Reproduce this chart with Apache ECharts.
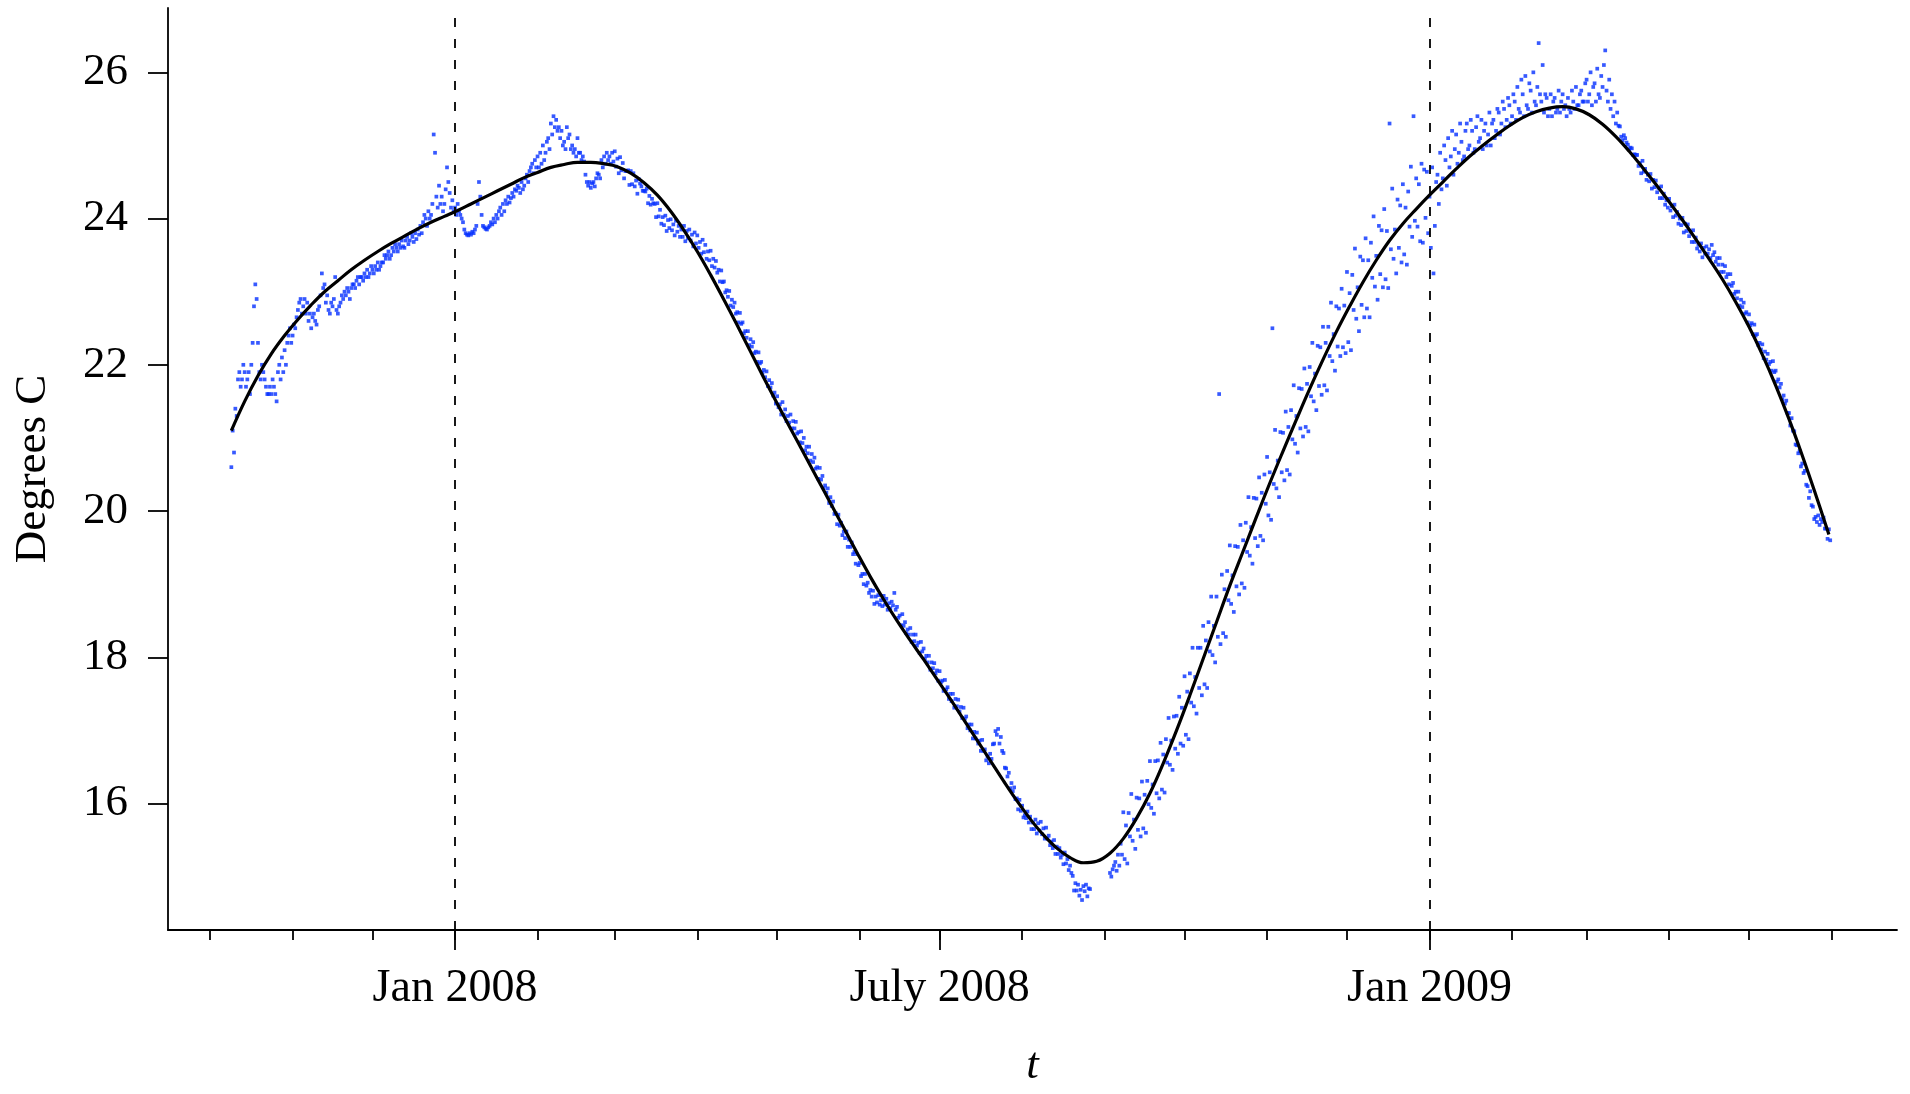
<!DOCTYPE html>
<html>
<head>
<meta charset="utf-8">
<title>Water temperature, Oct 2007 – May 2009</title>
<script src="https://cdn.jsdelivr.net/npm/echarts@6/dist/echarts.min.js"></script>
<style>
  html, body { margin: 0; padding: 0; background: #ffffff; }
  #chart { width: 1910px; height: 1094px; }
</style>
</head>
<body>
<div id="chart"></div>
<script>
// Temperature readings (degrees C), two per day (00:00 and 12:00 UTC),
// one array per month; null marks readings that are missing.
const stepHours = 12;

const oct2007 = [20.6, 21.1, 20.8, 21.4, 21.3, 21.8, 21.9, 21.7, 21.8, 22.0, 21.9, 21.7, 21.8, 21.9, 21.6, 22.0,
  22.3, 22.8, 23.1, 22.9, 22.3, 21.9, 21.8, 22.0, 21.9, 21.8, 21.7, 21.6, 21.6, 21.7, 21.6, 21.8,
  21.7, 21.6, 21.5, 21.9, 22.0, 21.8, 22.1, 21.9, 22.2, 22.0, 22.3, 22.4, 22.5, 22.3];
const nov2007 = [22.4, 22.55, 22.5, 22.65, 22.75, 22.85, 22.9, 22.7, 22.8, 22.9, 22.7, 22.85, 22.6, 22.7, 22.5, 22.65,
  22.7, 22.6, 22.55, 22.75, 22.8, 22.95, 23.25, 23.05, 23.1, 22.85, 22.95, 22.75, 22.7, 22.85, 22.8, 22.9,
  23.2, 22.75, 22.7, 22.8, 22.85, 22.95, 22.9, 23.0, 22.95, 23.05, 23.0, 22.9, 23.05, 23.1, 23.1, 23.05,
  23.15, 23.2, 23.1, 23.2, 23.2, 23.15, 23.25, 23.2, 23.3, 23.2, 23.25, 23.35];
const dec2007 = [23.3, 23.25, 23.35, 23.3, 23.4, 23.3, 23.35, 23.4, 23.4, 23.5, 23.45, 23.5, 23.55, 23.45, 23.5, 23.6,
  23.55, 23.65, 23.6, 23.55, 23.65, 23.6, 23.7, 23.62, 23.6, 23.7, 23.75, 23.65, 23.7, 23.8, 23.75, 23.68,
  23.8, 23.72, 23.85, 23.78, 23.9, 23.8, 23.95, 24.05, 24.0, 23.9, 24.1, 24.0, 24.05, 24.2, 25.15, 24.9,
  24.3, 24.15, 24.45, 24.2, 24.3, 24.1, 24.2, 24.4, 24.7, 24.5, 24.35, 24.15, 24.25, 24.1];
const jan2008 = [24.15, 24.05, 24.2, 24.1, 24.05, 24.0, 23.95, 23.85, 23.8, 23.78, 23.77, 23.8, 23.78, 23.82, 23.8, 23.85,
  23.9, 24.2, 24.5, 24.3, 24.05, 23.9, 23.88, 23.86, 23.85, 23.88, 23.9, 23.95, 23.92, 24.0, 23.95, 24.05,
  24.0, 24.1, 24.15, 24.05, 24.2, 24.1, 24.25, 24.2, 24.3, 24.22, 24.28, 24.35, 24.3, 24.4, 24.38, 24.45,
  24.42, 24.35, 24.5, 24.4, 24.45, 24.55, 24.6, 24.5, 24.65, 24.7, 24.75, 24.62, 24.8, 24.7];
const feb2008 = [24.85, 24.7, 24.9, 24.75, 25.0, 24.8, 24.9, 25.05, 25.1, 24.95, 25.3, 25.15, 25.4, 25.25, 25.35, 25.2,
  25.25, 25.1, 25.2, 25.0, 25.05, 24.95, 25.25, 25.1, 25.15, 24.95, 25.0, 24.9, 24.95, 24.85, 25.1, 24.9,
  24.9, 24.8, 24.85, 24.78, 24.6, 24.5, 24.45, 24.5, 24.42, 24.48, 24.5, 24.44, 24.55, 24.62, 24.6, 24.55,
  24.8, 24.7, 24.85, 24.75, 24.9, 24.8, 24.85, 24.75, 24.9, 24.78];
const mar2008 = [24.92, 24.71, 24.82, 24.62, 24.84, 24.66, 24.76, 24.55, 24.65, 24.65, 24.66, 24.46, 24.65, 24.47,
  24.62, 24.44, 24.52, 24.34, 24.54, 24.48, 24.44, 24.38, 24.38, 24.37, 24.41, 24.21, 24.31, 24.19,
  24.27, 24.21, 24.2, 24.02, 24.21, 24.03, 24.12, 23.93, 24.02, 23.91, 24.04, 23.83, 23.98, 23.87,
  23.99, 23.84, 23.92, 23.77, 23.97, 23.82, 23.9, 23.75, 23.85, 23.75, 23.9, 23.69, 23.83, 23.73,
  23.85, 23.7, 23.78, 23.62, 23.81, 23.66];
const apr2008 = [23.77, 23.6, 23.68, 23.52, 23.71, 23.54, 23.64, 23.45, 23.55, 23.43, 23.56, 23.35, 23.45, 23.33,
  23.42, 23.26, 23.3, 23.14, 23.29, 23.13, 23.14, 22.99, 23.02, 22.93, 23.01, 22.81, 22.89, 22.79,
  22.85, 22.7, 22.72, 22.58, 22.71, 22.56, 22.58, 22.43, 22.46, 22.37, 22.46, 22.27, 22.35, 22.25,
  22.31, 22.16, 22.18, 22.04, 22.17, 22.02, 22.04, 21.89, 21.93, 21.83, 21.91, 21.71, 21.79, 21.69,
  21.75, 21.58, 21.62, 21.47];
const may2008 = [21.57, 21.42, 21.46, 21.32, 21.49, 21.32, 21.39, 21.23, 21.3, 21.21, 21.32, 21.13, 21.23, 21.13,
  21.22, 21.06, 21.08, 20.94, 21.09, 20.93, 21.0, 20.83, 20.88, 20.79, 20.88, 20.69, 20.78, 20.67,
  20.73, 20.58, 20.6, 20.44, 20.59, 20.43, 20.48, 20.31, 20.35, 20.25, 20.31, 20.11, 20.19, 20.07,
  20.13, 19.96, 19.97, 19.82, 19.95, 19.8, 19.84, 19.67, 19.72, 19.63, 19.72, 19.51, 19.61, 19.51,
  19.57, 19.41, 19.44, 19.28, 19.41, 19.26];
const jun2008 = [19.29, 19.11, 19.14, 19.0, 19.14, 18.98, 19.02, 18.88, 18.92, 18.83, 18.91, 18.73, 18.83, 18.75,
  18.85, 18.72, 18.78, 18.7, 18.84, 18.72, 18.8, 18.65, 18.74, 18.67, 18.76, 18.71, 18.88, 18.65,
  18.69, 18.54, 18.57, 18.44, 18.59, 18.43, 18.48, 18.33, 18.38, 18.31, 18.4, 18.21, 18.31, 18.22,
  18.31, 18.16, 18.2, 18.06, 18.21, 18.08, 18.12, 17.98, 18.02, 17.93, 18.02, 17.83, 17.93, 17.85,
  17.92, 17.78, 17.82, 17.68];
const jul2008 = [17.81, 17.66, 17.68, 17.54, 17.69, 17.56, 17.59, 17.43, 17.5, 17.4, 17.5, 17.31, 17.43, 17.33,
  17.42, 17.26, 17.32, 17.17, 17.31, 17.16, 17.19, 17.03, 17.08, 17.0, 17.08, 16.89, 16.98, 16.89,
  16.97, 16.82, 16.86, 16.72, 16.87, 16.72, 16.74, 16.59, 16.64, 16.55, 16.68, 16.61, 16.81, 16.82,
  16.99, 16.94, 17.02, 16.82, 16.91, 16.72, 16.69, 16.49, 16.48, 16.37, 16.42, 16.21, 16.28, 16.17,
  16.22, 16.06, 16.07, 15.92, 16.05, 15.9];
const aug2008 = [15.97, 15.81, 15.84, 15.8, 15.89, 15.74, 15.82, 15.65, 15.74, 15.65, 15.78, 15.59, 15.73, 15.63,
  15.75, 15.58, 15.66, 15.52, 15.67, 15.52, 15.56, 15.43, 15.48, 15.39, 15.5, 15.31, 15.41, 15.31,
  15.39, 15.26, 15.3, 15.17, 15.33, 15.18, 15.24, 15.09, 15.15, 15.05, 15.01, 14.81, 14.91, 14.81,
  14.89, 14.74, 14.82, 14.68, 14.87, 14.8, 14.89, 14.73, 14.84, 14.83,
  null, null, null, null, null, null, null, null, null, null];
const sep2008 = [null, null, null, null, 15.05, 15.0, 15.1, 15.15, 15.2, 15.08, 15.3, 15.15, 15.45, 15.3, 15.88, 15.24,
  15.7, 15.18, 15.87, 15.55, 16.13, 15.49, 15.78, 15.38, 16.08, 15.64, 16.07, 15.55, 16.3, 15.66, 16.12, 15.6,
  16.31, 15.99, 16.58, 15.94, 16.26, 15.86, 16.58, 16.14, 16.59, 16.07, 16.83, 16.19, 16.67, 16.15, 16.88, 16.56,
  17.17, 16.53, 16.86, 16.46, 17.19, 16.75, 17.2, 16.68, 17.46, 16.82, 17.31, 16.79];
const oct2008 = [17.74, 16.94, 17.53, 16.88, 17.78, 17.38, 18.13, 17.33, 17.73, 17.23, 18.13, 17.58, 18.13, 17.48, 18.43, 17.63,
  18.23, 17.58, 18.48, 18.08, 18.83, 18.03, 18.43, 17.93, 18.83, 18.28, 21.6, 18.18, 19.13, 18.33, 18.93, 18.28,
  19.18, 18.78, 19.53, 18.73, 19.12, 18.62, 19.52, 18.97, 19.51, 18.86, 19.81, 19.01, 19.6, 18.95, 19.84, 19.44,
  20.19, 19.39, 19.78, 19.28, 20.18, 19.63, 20.17, 19.52, 20.46, 19.66, 20.25, 19.6, 20.5, 20.1];
const nov2008 = [20.74, 19.94, 20.53, 19.88, 22.5, 20.37, 21.11, 20.31, 20.69, 20.19, 21.08, 20.53, 21.07, 20.42, 21.36, 20.56,
  21.15, 20.5, 21.38, 20.98, 21.72, 20.92, 21.3, 20.8, 21.68, 21.13, 21.67, 21.02, 21.95, 21.15, 21.74, 21.09,
  21.97, 21.57, 22.3, 21.5, 21.88, 21.38, 22.26, 21.71, 22.24, 21.59, 22.52, 21.72, 22.3, 21.65, 22.52, 22.12,
  22.85, 22.05, 22.42, 21.92, 22.8, 22.25, 22.77, 22.12, 23.04, 22.24, 22.81, 22.16];
const dec2008 = [23.27, 22.31, 22.98, 22.2, 23.23, 22.75, 23.59, 22.63, 23.06, 22.46, 23.48, 22.82, 23.43, 22.65, 23.73, 22.77,
  23.43, 22.65, 23.67, 23.19, 24.03, 23.07, 23.49, 22.89, 23.9, 23.24, 23.84, 23.06, 24.13, 23.17, 23.83, 23.05,
  25.3, 23.58, 24.41, 23.45, 23.85, 23.25, 24.26, 23.6, 24.18, 23.4, 24.47, 23.51, 24.15, 23.37, 24.37, 23.89,
  24.71, 23.75, 25.4, 23.97, 24.55, 23.89, 24.47, 23.69, 24.75, 23.67, 24.67, 24.01, 24.64, 23.8];
const jan2009 = [24.3, 23.6, 24.7, 23.25, 23.9, 24.5, 24.6, 24.2, 24.9, 24.4, 24.55, 25.0, 24.8, 24.45, 25.1, 24.7,
  24.85, 25.2, 24.6, 24.95, 25.15, 24.75, 24.9, 25.3, 25.05, 24.8, 24.85, 25.2, 25.3, 24.95, 25.0, 25.35,
  25.2, 24.9, 24.95, 25.25, 25.4, 25.05, 25.1, 25.35, 24.95, 25.2, 25.3, 25.0, 25.15, 25.45, 25.0, 25.3,
  25.35, 25.1, 25.2, 25.5, 25.45, 25.15, 25.3, 25.6, 25.5, 25.25, 25.35, 25.65, 25.55, 25.3];
const feb2009 = [25.4, 25.7, 25.6, 25.35, 25.8, 25.5, 25.45, 25.9, 25.7, 25.4, 25.95, 25.55, 25.5, 25.85, 25.75, 25.45,
  26.0, 25.6, 25.55, 25.8, 26.4, 25.7, 25.6, 26.1, 25.45, 25.7, 25.65, 25.4, 25.5, 25.7, 25.4, 25.6,
  25.65, 25.45, 25.5, 25.75, 25.45, 25.6, 25.7, 25.5, 25.55, 25.4, 25.65, 25.5, 25.45, 25.75, 25.6, 25.5,
  25.8, 25.55, 25.55, 25.7, 25.75, 25.6, 25.6, 25.85];
const mar2009 = [25.9, 25.6, 25.7, 26.0, 25.55, 25.8, 25.85, 25.6, 26.05, 25.7, 25.65, 25.95, 25.8, 26.1, 26.3, 25.75,
  25.6, 25.9, 25.5, 25.7, 25.4, 25.6, 25.3, 25.45,
  25.27, 25.26, 25.12, 25.07, 25.14, 25.1, 25.04, 25.01, 24.95, 24.97, 24.96, 24.87, 24.88, 24.87,
  24.87, 24.72, 24.76, 24.62, 24.79, 24.64, 24.68, 24.53, 24.6, 24.51, 24.61, 24.41, 24.53, 24.43,
  24.52, 24.36, 24.42, 24.28, 24.44, 24.28, 24.34, 24.19, 24.25, 24.15];
const apr2009 = [24.27, 24.11, 24.17, 24.02, 24.19, 24.04, 24.09, 23.93, 24.0, 23.91, 24.01, 23.81, 23.93, 23.83,
  23.92, 23.76, 23.82, 23.68, 23.84, 23.68, 23.74, 23.59, 23.64, 23.55, 23.66, 23.47, 23.6, 23.52,
  23.62, 23.52, 23.58, 23.46, 23.64, 23.5, 23.54, 23.41, 23.46, 23.37, 23.46, 23.27, 23.37, 23.27,
  23.35, 23.2, 23.24, 23.1, 23.24, 23.08, 23.12, 22.97, 23.0, 22.91, 23.0, 22.81, 22.89, 22.79,
  22.85, 22.7, 22.72, 22.58];
const may2009 = [22.69, 22.54, 22.57, 22.42, 22.55, 22.4, 22.42, 22.27, 22.3, 22.21, 22.28, 22.09, 22.18, 22.07,
  22.15, 22.01, 22.04, 21.92, 22.05, 21.9, 21.92, 21.77, 21.8, 21.69, 21.74, 21.53, 21.58, 21.47,
  21.51, 21.34, 21.34, 21.17, 21.27, 21.1, 21.09, 20.91, 20.9, 20.79, 20.82, 20.61, 20.65, 20.52,
  20.55, 20.36, 20.34, 20.18, 20.27, 20.08, 20.06, 19.89, 19.92, 19.85, 19.94, 19.81, 19.89, 19.85,
  19.91, 19.76, 19.76, 19.62, 19.75, 19.6];

const monthStarts = ['2007-10-09', '2007-11-01', '2007-12-01', '2008-01-01', '2008-02-01', '2008-03-01',
  '2008-04-01', '2008-05-01', '2008-06-01', '2008-07-01', '2008-08-01', '2008-09-01', '2008-10-01',
  '2008-11-01', '2008-12-01', '2009-01-01', '2009-02-01', '2009-03-01', '2009-04-01', '2009-05-01'];
const monthlyReadings = [oct2007, nov2007, dec2007, jan2008, feb2008, mar2008, apr2008, may2008, jun2008,
  jul2008, aug2008, sep2008, oct2008, nov2008, dec2008, jan2009, feb2009, mar2009, apr2009, may2009];

// Smooth fitted trend, one value every 5 days from 2007-10-09.
const fitStart = '2007-10-09';
const fitStepDays = 5;
const fitValues = [21.1, 21.5, 21.85, 22.15, 22.4, 22.62, 22.82, 23.0, 23.15, 23.3, 23.43, 23.55, 23.66, 23.76, 23.86,
  23.95, 24.03, 24.11, 24.2, 24.29, 24.38, 24.47, 24.56, 24.63, 24.7, 24.74, 24.77, 24.77, 24.75, 24.71,
  24.62, 24.49, 24.32, 24.1, 23.84, 23.55, 23.23, 22.89, 22.54, 22.18, 21.82, 21.47, 21.13, 20.79, 20.45,
  20.11, 19.77, 19.43, 19.1, 18.79, 18.5, 18.23, 17.97, 17.7, 17.43, 17.15, 16.87, 16.59, 16.31, 16.04,
  15.79, 15.57, 15.39, 15.26, 15.19, 15.21, 15.32, 15.52, 15.8, 16.14, 16.55, 17.0, 17.48, 17.98, 18.48,
  18.98, 19.45, 19.92, 20.38, 20.82, 21.25, 21.67, 22.07, 22.45, 22.8, 23.13, 23.43, 23.7, 23.93, 24.13,
  24.32, 24.5, 24.68, 24.85, 25.0, 25.14, 25.27, 25.38, 25.46, 25.51, 25.53, 25.5, 25.42, 25.29, 25.12,
  24.92, 24.7, 24.47, 24.23, 23.98, 23.72, 23.45, 23.17, 22.86, 22.52, 22.14, 21.72, 21.26, 20.76, 20.23, 19.68];

// Axis range and ticks
const axisStart = '2007-09-15T05:00:00Z';
const axisEnd = '2009-06-25T14:00:00Z';
const yMin = 14.27;
const yMax = 26.88;
const yTicks = [16, 18, 20, 22, 24, 26];
const majorTickDates = ['2008-01-01', '2008-07-01', '2009-01-01'];
const majorTickLabels = ['Jan 2008', 'July 2008', 'Jan 2009'];
const minorTickMonths = ['2007-10-01', '2007-11-01', '2007-12-01', '2008-01-01', '2008-02-01', '2008-03-01',
  '2008-04-01', '2008-05-01', '2008-06-01', '2008-07-01', '2008-08-01', '2008-09-01', '2008-10-01',
  '2008-11-01', '2008-12-01', '2009-01-01', '2009-02-01', '2009-03-01', '2009-04-01', '2009-05-01', '2009-06-01'];
const dashedMarkers = ['2008-01-01', '2009-01-01'];

const HOUR = 3600000;
const DAY = 24 * HOUR;
const utc = s => Date.parse(s.length === 10 ? s + 'T00:00:00Z' : s);

const points = [];
monthlyReadings.forEach((vals, m) => {
  const t0 = utc(monthStarts[m]);
  vals.forEach((v, i) => {
    if (v !== null) points.push([t0 + i * stepHours * HOUR, v]);
  });
});
const fitT0 = utc(fitStart);
const fitLine = fitValues.map((v, i) => [fitT0 + i * fitStepDays * DAY, v]);

const majorTicks = majorTickDates.map(utc);
const minorTicks = minorTickMonths.map(utc);
const labelFor = v => {
  const k = majorTicks.indexOf(v);
  return k >= 0 ? majorTickLabels[k] : '';
};

const serif = "'Liberation Serif', 'DejaVu Serif', serif";
const ink = '#000000';
const axisWidth = 1.8;

const chart = echarts.init(document.getElementById('chart'), null, { renderer: 'canvas' });
chart.setOption({
  animation: false,
  backgroundColor: '#ffffff',
  grid: { left: 168, top: 8, right: 13, bottom: 157, containLabel: false },
  xAxis: [
    {
      type: 'value',
      min: utc(axisStart),
      max: utc(axisEnd),
      position: 'bottom',
      name: 't',
      nameLocation: 'middle',
      nameGap: 114,
      nameTextStyle: { fontFamily: serif, fontSize: 45, fontStyle: 'italic', color: ink },
      axisLine: { show: true, lineStyle: { color: ink, width: axisWidth } },
      axisTick: { show: true, length: 20, customValues: majorTicks, lineStyle: { color: ink, width: axisWidth } },
      axisLabel: { show: true, customValues: majorTicks, formatter: labelFor, margin: 36,
        fontFamily: serif, fontSize: 46, color: ink },
      splitLine: { show: false }
    },
    {
      type: 'value',
      min: utc(axisStart),
      max: utc(axisEnd),
      position: 'bottom',
      axisLine: { show: false },
      axisTick: { show: true, length: 10, customValues: minorTicks, lineStyle: { color: ink, width: axisWidth } },
      axisLabel: { show: false },
      splitLine: { show: false }
    }
  ],
  yAxis: {
    type: 'value',
    min: yMin,
    max: yMax,
    name: 'Degrees C',
    nameLocation: 'middle',
    nameRotate: 90,
    nameGap: 112,
    nameTextStyle: { fontFamily: serif, fontSize: 45, color: ink },
    axisLine: { show: true, lineStyle: { color: ink, width: axisWidth } },
    axisTick: { show: true, length: 20, customValues: yTicks, lineStyle: { color: ink, width: axisWidth } },
    axisLabel: { show: true, customValues: yTicks, margin: 40, fontFamily: serif, fontSize: 45, color: ink },
    splitLine: { show: false }
  },
  series: [
    {
      name: 'readings',
      type: 'scatter',
      xAxisIndex: 0,
      data: points,
      symbol: 'rect',
      symbolSize: 3.7,
      itemStyle: { color: '#0530ff' },
      silent: true,
      z: 2,
      markLine: {
        silent: true,
        symbol: ['none', 'none'],
        label: { show: false },
        lineStyle: { color: ink, type: [9, 12], width: 1.8 },
        data: dashedMarkers.map(d => ({ xAxis: utc(d) }))
      }
    },
    {
      name: 'trend',
      type: 'line',
      xAxisIndex: 0,
      data: fitLine,
      smooth: 0.4,
      showSymbol: false,
      lineStyle: { color: ink, width: 3.2 },
      silent: true,
      z: 3
    }
  ]
});
</script>
</body>
</html>
